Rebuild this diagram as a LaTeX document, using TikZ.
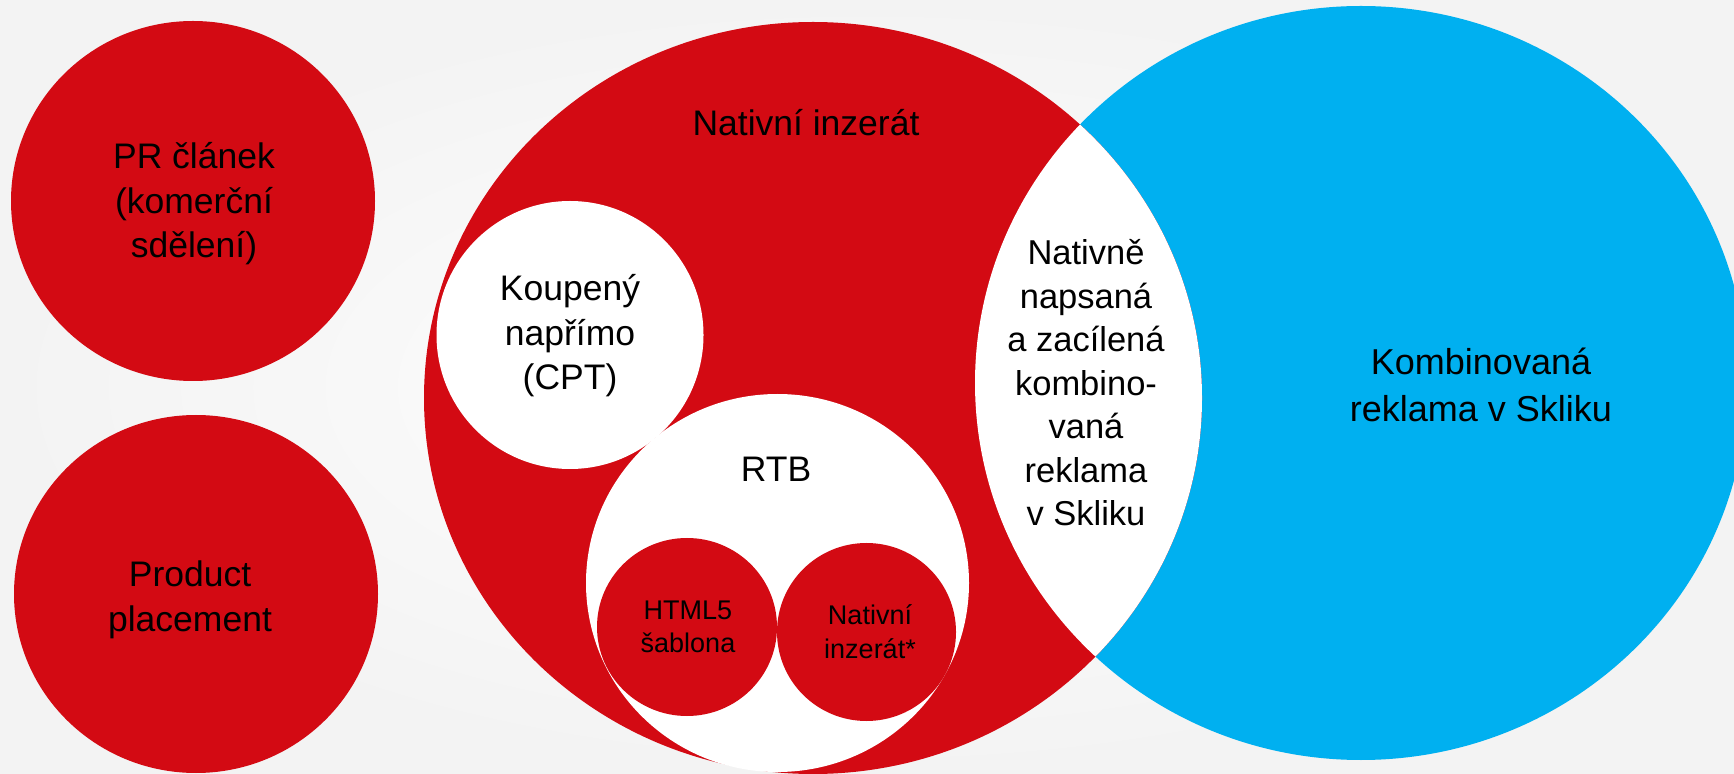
\documentclass[tikz,border=0pt]{standalone}
\usepackage{fontspec}
\setmainfont{Liberation Sans}
\usetikzlibrary{positioning}
\definecolor{nativered}{RGB}{211,10,19}
\definecolor{sklikblue}{RGB}{0,176,240}
\definecolor{pagegrey}{RGB}{243,243,243}
\newcommand{\fillcolorred}{nativered}
\newcommand{\fillcolorblue}{sklikblue}
\tikzset{
	lbl/.style={font=\fontsize{17.75}{22.25}\selectfont, align=center, inner sep=0},
	lblsmall/.style={font=\fontsize{13.5}{16.8}\selectfont, align=center, inner sep=0},
}
\begin{document}
\begin{tikzpicture}[x=0.5pt, y=-0.5pt]
	\useasboundingbox (0,0) rectangle (1734,774);
	\clip (0,0) rectangle (1734,774);
	\shade[inner color=white, outer color=pagegrey] (0,0) rectangle (1734,774);

	% left circles
	\fill[\fillcolorred] (193,201) ellipse [x radius=182, y radius=180];
	\fill[\fillcolorred] (196,594) ellipse [x radius=182, y radius=179];

	% Venn: native ad vs. Sklik
	\fill[\fillcolorblue] (1361,383) ellipse [x radius=386, y radius=377];
	\fill[\fillcolorred] (813,398) ellipse [x radius=389, y radius=376];
	\begin{scope}
		\clip (1361,383) ellipse [x radius=386, y radius=377];
		\fill[white] (813,398) ellipse [x radius=389, y radius=376];
	\end{scope}

	% inner circles
	\fill[white] (570,335) ellipse [x radius=133.5, y radius=134];
	\fill[white] (777.5,583) ellipse [x radius=191.5, y radius=189];
	\fill[\fillcolorred] (687,627) ellipse [x radius=90, y radius=89];
	\fill[\fillcolorred] (866.5,632) ellipse [x radius=89.5, y radius=89];

	\node[lbl] at (194,204) (pr) {PR článek\\(komerční\\sdělení)};
	\node[lbl] at (190,600) (pp) {Product\\placement};
	\node[lbl] at (806,123) (nat) {Nativní inzerát};
	\node[lbl] at (570,336) (cpt) {Koupený\\napřímo\\(CPT)};
	\node[lbl] at (776,469) (rtb) {RTB};
	\node[lblsmall] at (688,627) (html) {HTML5\\šablona};
	\node[lblsmall] at (870,631.5) (natstar) {Nativní\\inzerát*};
	\node[lbl, font=\fontsize{17.25}{21.75}\selectfont] at (1086,383) (lens) {Nativně\\napsaná\\a zacílená\\kombino-\\vaná\\reklama\\v Skliku};
	\node[lbl, font=\fontsize{18}{23.25}\selectfont] at (1481,385) (kombi) {Kombinovaná\\reklama v Skliku};
\end{tikzpicture}
\end{document}
